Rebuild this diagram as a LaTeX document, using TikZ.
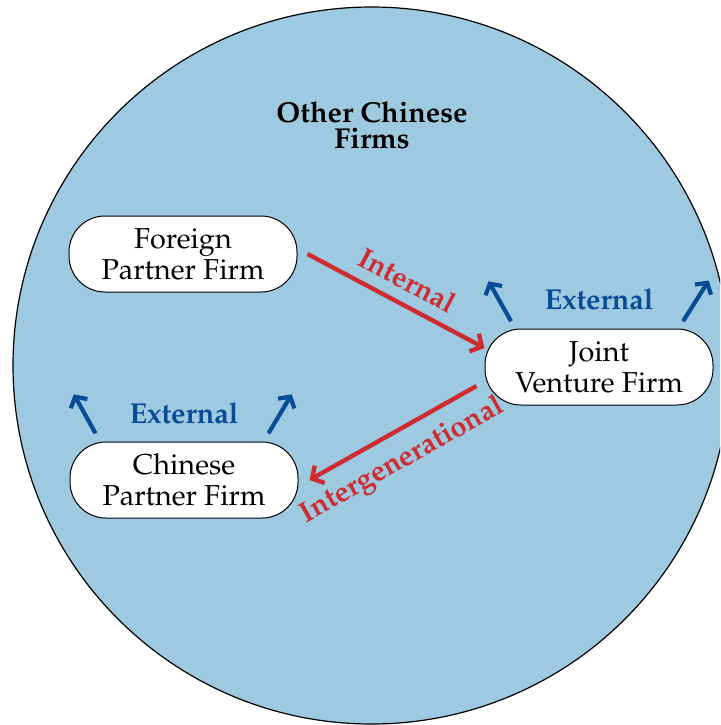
\documentclass[tikz,border=0pt]{standalone}
\usepackage[T1]{fontenc}
\usepackage{mathpazo}
\usetikzlibrary{arrows.meta}

\definecolor{poolblue}{RGB}{158,202,225}
\definecolor{extblue}{RGB}{8,75,150}
\definecolor{flowred}{RGB}{205,45,50}

\tikzset{
  firm/.style={draw=black, fill=white, line width=0.5pt, rounded corners=18pt,
    minimum width=114pt, minimum height=38pt, inner sep=0pt, align=center,
    font=\fontsize{14.4}{15.5}\selectfont},
  flow/.style={draw=flowred, line width=2.2pt,
    -{Straight Barb[length=4.4pt,width=10pt]}},
  flowlabel/.style={text=flowred, sloped, font=\bfseries\fontsize{14.4}{15.5}\selectfont},
  ext/.style={draw=extblue, line width=2.1pt,
    -{Straight Barb[length=4pt,width=9.5pt]}},
  extlabel/.style={text=extblue, anchor=base, inner sep=0pt,
    font=\bfseries\fontsize{14.4}{15.5}\selectfont},
}

\begin{document}
\begin{tikzpicture}[x=0.5pt, y=-0.5pt]
  \useasboundingbox (0,0) rectangle (720,725);
  \clip (0,0) rectangle (720,725);

  % the pool of other Chinese firms
  \fill[poolblue] (371.5,365.5) circle[radius=179.25pt];
  \draw[black, line width=0.6pt] (371.5,365.5) circle[radius=179.25pt];
  \node[align=center, inner sep=0pt, font=\bfseries\fontsize{14.4}{12.8}\selectfont]
    (pool) at (372,125) {Other Chinese\\Firms};

  % the three firms
  \node[firm] (fpf) at (183,254) {Foreign\\Partner Firm};
  \node[firm] (jv)  at (599,367) {Joint\\Venture Firm};
  \node[firm] (cpf) at (184,480) {Chinese\\Partner Firm};

  % knowledge flows between the firms
  \draw[flow] ([xshift=5pt]fpf.east) -- ([yshift=9.5pt]jv.west)
    node[flowlabel, pos=0.5, above=2.2pt] {Internal};
  \draw[flow] ([xshift=-4pt,yshift=-9.5pt]jv.west) -- ([xshift=5.5pt]cpf.east)
    node[flowlabel, pos=0.53, below=3pt] {Intergenerational};

  % spillovers to other Chinese firms
  \coordinate (jvL) at ([xshift=2pt,yshift=23.6pt]jv.north west);
  \coordinate (jvR) at ([xshift=-2.4pt,yshift=24pt]jv.north east);
  \coordinate (cpL) at ([xshift=2.2pt,yshift=23.6pt]cpf.north west);
  \coordinate (cpR) at ([xshift=-3.4pt,yshift=23.6pt]cpf.north east);

  \draw[ext] ([xshift=13.3pt,yshift=3.6pt]jv.north west) -- (jvL);
  \draw[ext] ([xshift=-15.2pt,yshift=3.6pt]jv.north east) -- (jvR);
  \draw[ext] ([xshift=13pt,yshift=4.1pt]cpf.north west) -- (cpL);
  \draw[ext] ([xshift=-15pt,yshift=4.1pt]cpf.north east) -- (cpR);

  \node[extlabel] (jvext) at ([yshift=9.5pt]jv.north) {External};
  \node[extlabel] (cpext) at ([yshift=9pt]cpf.north) {External};
\end{tikzpicture}
\end{document}
